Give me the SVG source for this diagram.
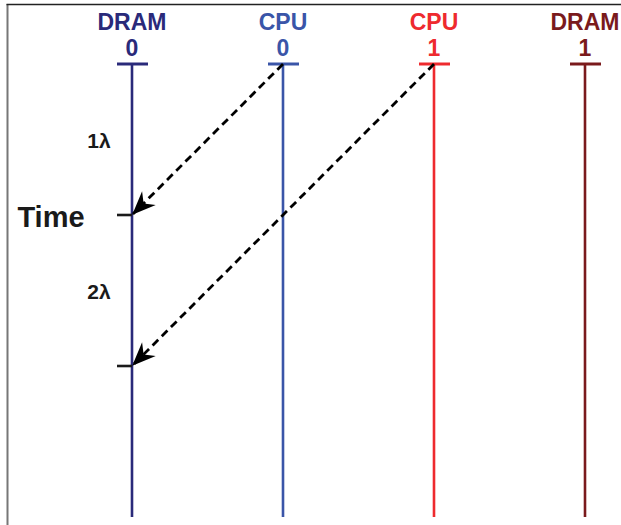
<svg xmlns="http://www.w3.org/2000/svg" width="621" height="525" viewBox="0 0 621 525">
  <style>
    .lbl { font-family: "Liberation Sans", Arial, sans-serif; font-weight: bold; text-anchor: middle; }
    .head { font-size: 23px; }
    .axis { stroke-width: 2.6; fill: none; }
    .msg { stroke: #000; stroke-width: 2.8; stroke-dasharray: 8 5; fill: none; marker-end: url(#arrow); }
    .tick { stroke: #1a1a1a; stroke-width: 2.6; }
  </style>
  <defs>
    <marker id="arrow" markerUnits="userSpaceOnUse" markerWidth="30" markerHeight="30" viewBox="-24 -12 28 24" refX="0" refY="0" orient="auto">
      <path d="M1,0 L-21,-9 L-14,0 L-21,9 Z" fill="#000"/>
    </marker>
  </defs>
  <rect width="621" height="525" fill="#fff"/>

  <!-- frame -->
  <line x1="7.5" y1="4" x2="7.5" y2="525" stroke="#777" stroke-width="2"/>
  <line x1="6.5" y1="4.5" x2="621" y2="4.5" stroke="#222" stroke-width="1.5"/>

  <g id="dram0">
    <text class="lbl head" x="132" y="30" fill="#2a2a7a">DRAM</text>
    <text class="lbl head" x="132" y="56" fill="#2a2a7a">0</text>
    <line x1="117" y1="64" x2="148" y2="64" stroke="#2a2a7a" stroke-width="3"/>
    <line class="axis" x1="132" y1="64" x2="132" y2="517" stroke="#2a2a7a"/>
  </g>
  <g id="cpu0">
    <text class="lbl head" x="283" y="30" fill="#3a55a8">CPU</text>
    <text class="lbl head" x="283" y="56" fill="#3a55a8">0</text>
    <line x1="268" y1="64" x2="299" y2="64" stroke="#3a55a8" stroke-width="3"/>
    <line class="axis" x1="283" y1="64" x2="283" y2="517" stroke="#3a55a8"/>
  </g>
  <g id="cpu1">
    <text class="lbl head" x="434" y="30" fill="#ee2a2e">CPU</text>
    <text class="lbl head" x="434" y="56" fill="#ee2a2e">1</text>
    <line x1="419" y1="64" x2="450" y2="64" stroke="#ee2a2e" stroke-width="3"/>
    <line class="axis" x1="434" y1="64" x2="434" y2="517" stroke="#ee2a2e"/>
  </g>
  <g id="dram1">
    <text class="lbl head" x="585" y="30" fill="#7a1a1c">DRAM</text>
    <text class="lbl head" x="585" y="56" fill="#7a1a1c">1</text>
    <line x1="570" y1="64" x2="601" y2="64" stroke="#7a1a1c" stroke-width="3"/>
    <line class="axis" x1="585" y1="64" x2="585" y2="517" stroke="#7a1a1c"/>
  </g>

  <g id="time-axis">
    <text class="lbl" x="51" y="227" font-size="29" fill="#1a1a1a">Time</text>
    <line class="tick" x1="117" y1="215" x2="132" y2="215"/>
    <line class="tick" x1="117" y1="366" x2="132" y2="366"/>
    <text class="lbl" x="99" y="148" font-size="21" fill="#1a1a1a">1λ</text>
    <text class="lbl" x="99" y="299" font-size="21" fill="#1a1a1a">2λ</text>
  </g>

  <g id="connectors">
    <line class="msg" x1="283" y1="64" x2="133" y2="214"/>
    <line class="msg" x1="434" y1="64" x2="133" y2="365"/>
  </g>
</svg>
